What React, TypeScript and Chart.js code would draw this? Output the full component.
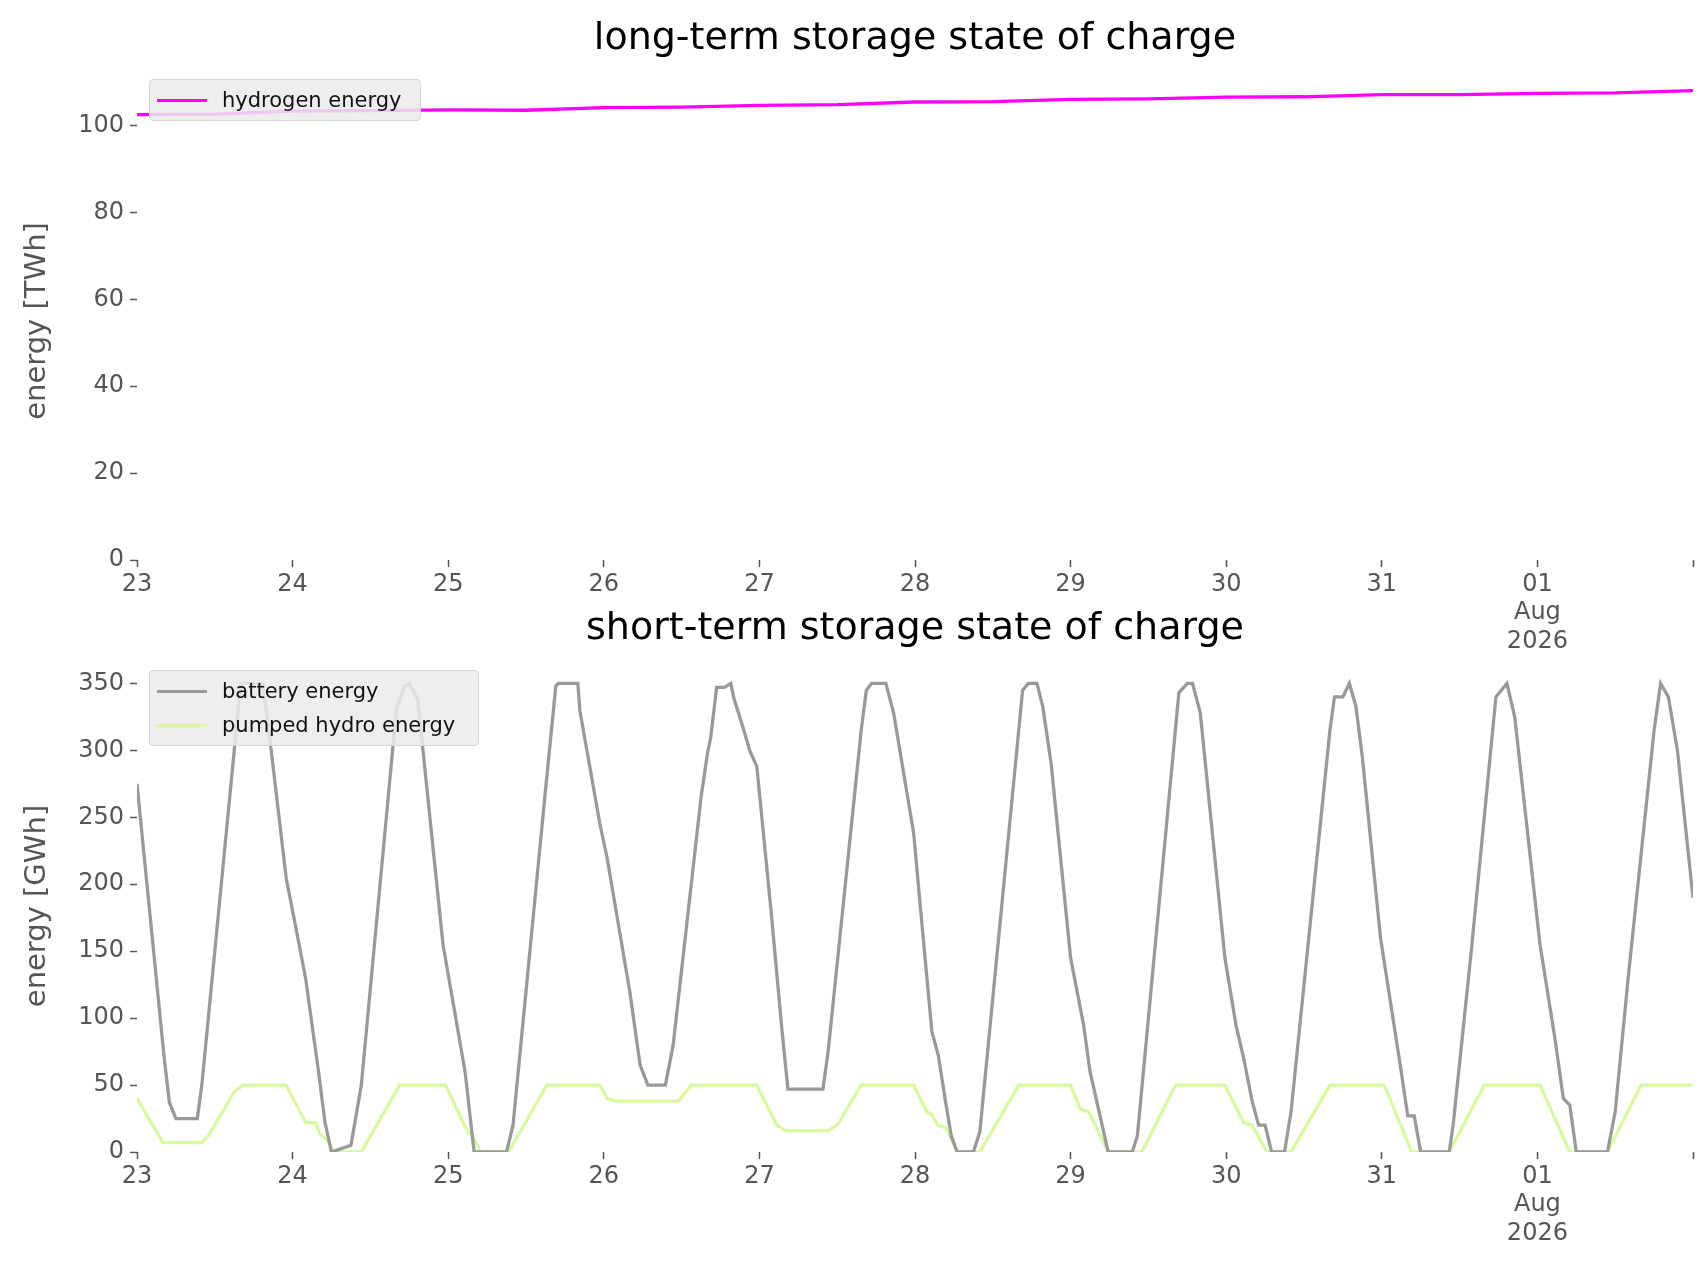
import React, { useEffect, useRef } from "react";
import { Chart, registerables } from "chart.js";
Chart.register(...registerables);

const dayLabels: (string | string[])[] = ["23", "24", "25", "26", "27", "28", "29", "30", "31", ["01", "Aug", "2026"], ""];

const hydrogenHours = [0, 12, 24, 36, 48, 60, 72, 84, 96, 108, 120, 132, 144, 156, 168, 180, 192, 204, 216, 228, 240];
const hydrogenTWh = [102.5, 102.6, 103.3, 103.4, 103.6, 103.5, 104.1, 104.2, 104.6, 104.8, 105.4, 105.5, 106, 106.1, 106.5, 106.6, 107.1, 107.1, 107.4, 107.5, 108];

const batteryHours = [0, 4.2, 5, 6, 9.3, 10, 15, 16, 19.4, 20.7, 23, 26, 28, 29, 30, 33, 34.6, 40, 41.3, 42, 43.3, 47.2, 50.6, 52, 57, 58, 63, 64.6, 65, 68, 68.3, 71.4, 72.5, 76, 77.6, 78.8, 81.5, 82.7, 87, 88, 88.5, 89.4, 90.6, 91.6, 92, 93.6, 94.5, 95.6, 97.8, 99.5, 100.4, 105.8, 106.6, 111.7, 112.5, 113.3, 115.5, 116.7, 119.8, 120.6, 122.6, 123.6, 124.8, 125.6, 126.5, 129, 130, 136.6, 137.5, 138.8, 139.7, 141, 144, 146, 147, 148.4, 149.8, 153.5, 154.3, 160.7, 162, 162.8, 164, 167.8, 169.5, 170.7, 172, 173, 174, 175, 177, 178, 184, 184.7, 186, 187, 188, 189, 191.8, 195, 196, 197, 198, 202.4, 203, 205.8, 209.6, 211.3, 212.5, 216.4, 218.7, 220, 221, 222, 226.8, 228, 230, 234, 235, 236.2, 237.6, 240];
const batteryGWh = [275, 70, 37, 25, 25, 50, 300, 350, 350, 300, 205, 130, 60, 22, 0, 5, 50, 330, 348, 350, 338, 155, 60, 0, 0, 20, 270, 348, 350, 350, 330, 245, 220, 120, 65, 50, 50, 80, 265, 298, 310, 347, 347, 350, 340, 315, 300, 288, 180, 90, 47, 47, 75, 315, 345, 350, 350, 328, 238, 195, 90, 72, 35, 12, 0, 0, 15, 345, 350, 350, 333, 290, 145, 95, 60, 30, 0, 0, 12, 343, 350, 350, 328, 145, 95, 70, 38, 20, 20, 0, 0, 30, 315, 340, 340, 350, 333, 295, 160, 60, 27, 27, 0, 0, 20, 150, 340, 350, 325, 155, 85, 40, 35, 0, 0, 30, 130, 315, 350, 340, 300, 190];

const pumpedHours = [0, 4, 10, 11, 15, 16.4, 23, 26, 27.5, 28.3, 29.5, 30.4, 34.6, 40.5, 47.6, 51, 52, 53, 57.3, 63.2, 71.4, 72.5, 73.9, 83.5, 85.5, 95.6, 98.7, 100, 106.6, 108, 111.7, 119.8, 121.8, 122.6, 123.5, 124.8, 126.5, 130, 136, 144, 145.5, 146.8, 149.8, 155, 160.2, 167.8, 170.7, 172, 174.3, 178, 184, 192.4, 196.6, 202.4, 207.8, 216.4, 221, 226.8, 232, 240];
const pumpedGWh = [40, 7, 7, 12, 45, 50, 50, 22, 22, 13, 8, 0, 0, 50, 50, 15, 10, 0, 0, 50, 50, 40, 38, 38, 50, 50, 20, 16, 16, 20, 50, 50, 30, 28, 20, 18, 0, 0, 50, 50, 32, 30, 0, 0, 50, 50, 22, 20, 0, 0, 50, 50, 0, 0, 50, 50, 0, 0, 50, 50];

const TXT = "#555555";
const FONT = "'DejaVu Sans', sans-serif";

function pts(xs: number[], ys: number[]) {
  return xs.map((x, i) => ({ x, y: ys[i] }));
}

function makeOptions(ymax: number, step: number, ytitle: string, padTop: number, xAxisH: number): any {
  return {
    animation: false,
    responsive: false,
    maintainAspectRatio: false,
    layout: { padding: { top: padTop, right: 13, left: 0, bottom: 0 } },
    plugins: { legend: { display: false }, tooltip: { enabled: false } },
    elements: { point: { radius: 0 }, line: { tension: 0, borderWidth: 3.3 } },
    scales: {
      x: {
        type: "linear",
        min: 0,
        max: 240,
        afterBuildTicks: (s: any) => { s.ticks = dayLabels.map((_, i) => ({ value: i * 24 })); },
        afterFit: (s: any) => { s.height = xAxisH; },
        border: { display: false },
        grid: { drawOnChartArea: false, tickLength: 7, color: TXT, tickWidth: 1.5 },
        ticks: {
          autoSkip: false,
          maxRotation: 0,
          color: TXT,
          font: { family: FONT, size: 24 },
          padding: 3,
          callback: (v: number) => dayLabels[Math.round(v / 24)],
        },
      },
      y: {
        min: 0,
        max: ymax,
        afterBuildTicks: (s: any) => {
          const t: any[] = [];
          for (let v = 0; v <= ymax; v += step) t.push({ value: v });
          s.ticks = t;
        },
        afterFit: (s: any) => { s.width = 137; },
        border: { display: false },
        grid: { drawOnChartArea: false, tickLength: 7, color: TXT, tickWidth: 1.5 },
        ticks: { color: TXT, font: { family: FONT, size: 24 }, padding: 6 },
        title: { display: true, text: ytitle, color: TXT, font: { family: FONT, size: 29 }, padding: { top: 20, bottom: 0 } },
      },
    },
  };
}

function Legend({ left, top, width, items }: { left: number; top: number; width: number; items: [string, string][] }) {
  return (
    <div style={{ position: "absolute", left, top, width, background: "rgba(235,235,235,0.85)", border: "1px solid #d6d6d6", borderRadius: 4, padding: "3px 0", zIndex: 5, fontFamily: FONT, fontSize: 21, color: "#111" }}>
      {items.map(([c, t]) => (
        <div key={t} style={{ display: "flex", alignItems: "center", height: 34 }}>
          <div style={{ width: 50, height: 3, background: c, marginLeft: 7, marginRight: 15 }} />
          <span>{t}</span>
        </div>
      ))}
    </div>
  );
}

export default function App() {
  const topRef = useRef<HTMLCanvasElement>(null);
  const botRef = useRef<HTMLCanvasElement>(null);
  useEffect(() => {
    const c1 = new Chart(topRef.current!, {
      type: "line",
      data: { datasets: [{ label: "hydrogen energy", data: pts(hydrogenHours, hydrogenTWh), borderColor: "#ff00ff" }] },
      options: makeOptions(110, 20, "energy [TWh]", 82, 120),
    });
    const c2 = new Chart(botRef.current!, {
      type: "line",
      data: {
        datasets: [
          { label: "battery energy", data: pts(batteryHours, batteryGWh), borderColor: "#999999" },
          { label: "pumped hydro energy", data: pts(pumpedHours, pumpedGWh), borderColor: "#d9f99d" },
        ],
      },
      options: makeOptions(367.5, 50, "energy [GWh]", 60, 125),
    });
    return () => { c1.destroy(); c2.destroy(); };
  }, []);
  const titleStyle: React.CSSProperties = { position: "absolute", left: 137, width: 1556, textAlign: "center", fontFamily: FONT, fontSize: 38, color: "#000", zIndex: 4 };
  return (
    <div style={{ position: "fixed", left: 0, top: 0, width: 1706, height: 1277, background: "#fff", overflow: "hidden" }}>
      <canvas ref={topRef} width={1706} height={680} style={{ position: "absolute", left: 0, top: 0, width: 1706, height: 680 }} />
      <canvas ref={botRef} width={1706} height={677} style={{ position: "absolute", left: 0, top: 600, width: 1706, height: 677, zIndex: 2 }} />
      <div style={{ ...titleStyle, top: 14 }}>long-term storage state of charge</div>
      <div style={{ ...titleStyle, top: 604 }}>short-term storage state of charge</div>
      <Legend left={149} top={79} width={270} items={[["#ff00ff", "hydrogen energy"]]} />
      <Legend left={149} top={670} width={328} items={[["#999999", "battery energy"], ["#d9f99d", "pumped hydro energy"]]} />
    </div>
  );
}
